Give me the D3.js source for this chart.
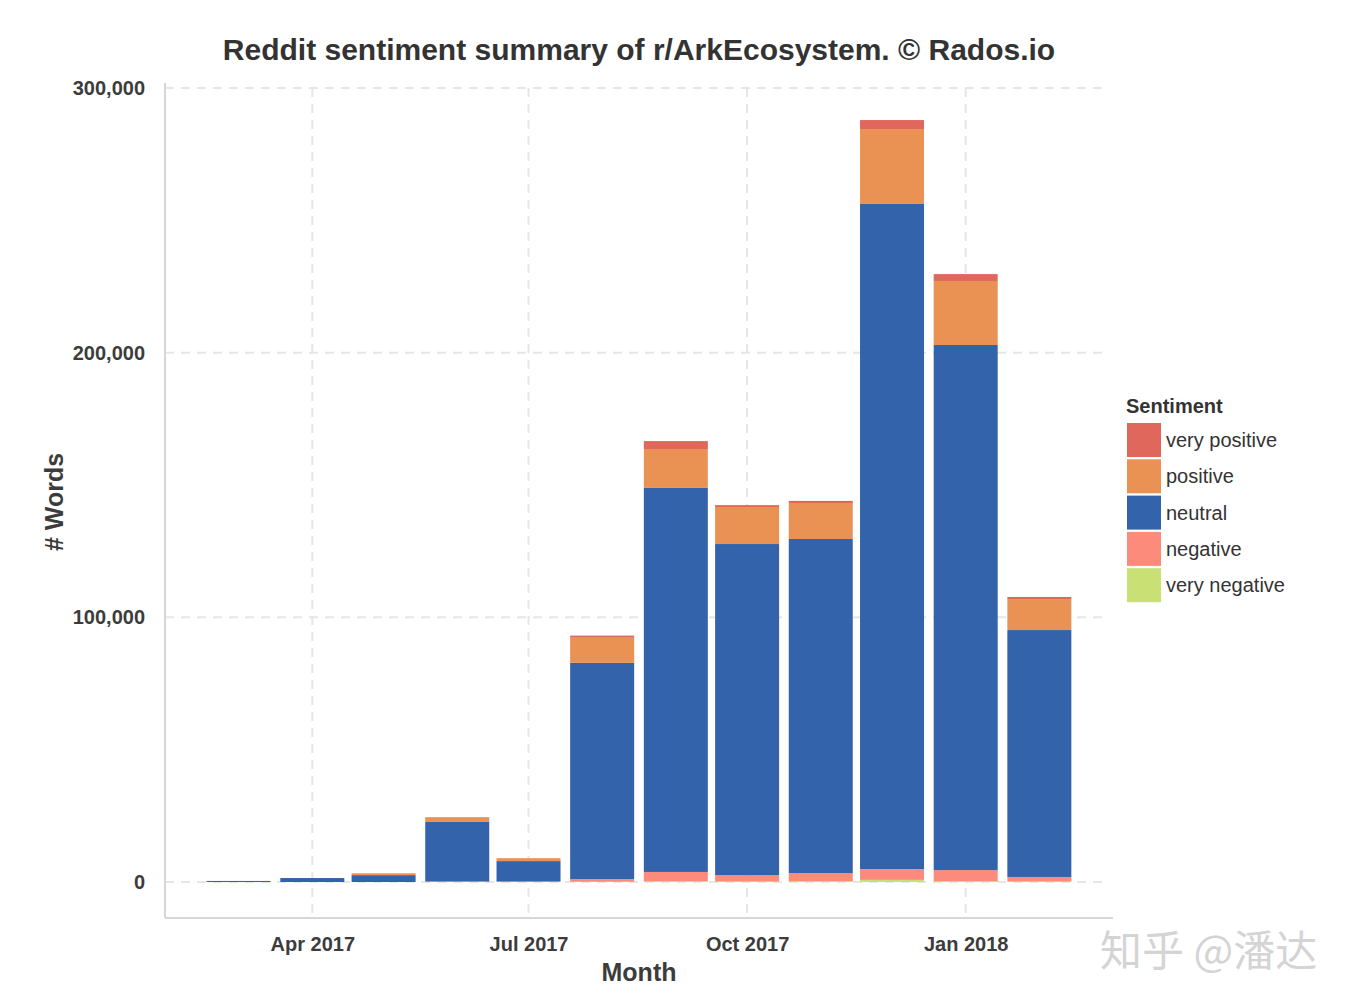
<!DOCTYPE html>
<html><head><meta charset="utf-8">
<script src="https://cdn.jsdelivr.net/npm/d3@7"></script>
<style>body{margin:0;background:#fff;} text{font-family:"Liberation Sans",Arial,sans-serif;}</style>
</head><body>
<svg id="chart" width="1348" height="1006"></svg>
<script>
const months = ["2017-03-01","2017-04-01","2017-05-01","2017-06-01","2017-07-01","2017-08-01","2017-09-01","2017-10-01","2017-11-01","2017-12-01","2018-01-01","2018-02-01"];
const veryNegative = [0, 0, 0, 0, 0, 100, 300, 200, 300, 800, 300, 200];
const negative     = [0, 0, 0, 200, 200, 1000, 3500, 2400, 3100, 4100, 4200, 1700];
const neutral      = [400, 1500, 2600, 22500, 7700, 81700, 145100, 125100, 126200, 251300, 198400, 93300];
const positive     = [0, 0, 700, 1800, 1100, 9500, 14700, 14000, 13600, 28300, 24200, 11700];
const veryPositive = [0, 0, 0, 0, 0, 800, 3000, 700, 800, 3400, 2600, 800];
const sentiments = ["very positive","positive","neutral","negative","very negative"];
const colors = ["#df675b","#ea9154","#3363aa","#fc8b7c","#c9e075"];
const yTicks = [0, 100000, 200000, 300000];
const xTicks = ["2017-04-01","2017-07-01","2017-10-01","2018-01-01"];
const xTickLabels = ["Apr 2017","Jul 2017","Oct 2017","Jan 2018"];

const parse = d3.timeParse("%Y-%m-%d");
const rows = months.map((m,i)=>({date:parse(m),"very negative":veryNegative[i],"negative":negative[i],"neutral":neutral[i],"positive":positive[i],"very positive":veryPositive[i]}));
const stackOrder = ["very negative","negative","neutral","positive","very positive"];
const series = d3.stack().keys(stackOrder)(rows);
const color = d3.scaleOrdinal().domain(sentiments).range(colors);

const svg = d3.select("#chart");
const L=165, R=1113, T=83, B=918;
const x = d3.scaleTime().domain([parse("2017-01-29"), parse("2018-03-04")]).range([L,R]);
const y = d3.scaleLinear().domain([-13600, 301900]).range([B,T]);

// gridlines
const grid = svg.append("g");
grid.selectAll("line.h").data(yTicks).join("line")
  .attr("x1",L).attr("x2",1105).attr("y1",d=>y(d)).attr("y2",d=>y(d))
  .attr("stroke","#e6e6e6").attr("stroke-width",2).attr("stroke-dasharray","9,7");
grid.selectAll("line.v").data(xTicks).join("line")
  .attr("x1",d=>x(parse(d))).attr("x2",d=>x(parse(d))).attr("y1",88).attr("y2",B)
  .attr("stroke","#e6e6e6").attr("stroke-width",2).attr("stroke-dasharray","9,7");

// bars
const barW = 64;
svg.append("g").selectAll("g").data(series).join("g")
  .attr("fill",d=>color(d.key))
  .selectAll("rect").data(d=>d).join("rect")
  .attr("x",d=>x(d.data.date)-barW/2).attr("width",barW)
  .attr("y",d=>y(d[1])).attr("height",d=>Math.max(0,y(d[0])-y(d[1])));

// axis lines
svg.append("line").attr("x1",L).attr("x2",L).attr("y1",T).attr("y2",B).attr("stroke","#d6d6d6").attr("stroke-width",2);
svg.append("line").attr("x1",L).attr("x2",R).attr("y1",B).attr("y2",B).attr("stroke","#d6d6d6").attr("stroke-width",2);

// axes via d3 (labels only)
const yAxis = svg.append("g").attr("transform",`translate(${L},0)`)
  .call(d3.axisLeft(y).tickValues(yTicks).tickSize(0).tickPadding(20).tickFormat(d3.format(",")));
yAxis.select(".domain").remove();
yAxis.selectAll("text").attr("font-size",20).attr("font-weight","bold").attr("fill","#3c3c3c").style("font-family","Liberation Sans, Arial, sans-serif");

const xAxis = svg.append("g").attr("transform",`translate(0,${B})`)
  .call(d3.axisBottom(x).tickValues(xTicks.map(parse)).tickSize(0).tickPadding(19).tickFormat((d,i)=>xTickLabels[i]));
xAxis.select(".domain").remove();
xAxis.selectAll("text").attr("font-size",20).attr("font-weight","bold").attr("fill","#3c3c3c").style("font-family","Liberation Sans, Arial, sans-serif");

// titles
svg.append("text").attr("x",639).attr("y",60).attr("text-anchor","middle").attr("font-size",30).attr("font-weight","bold").attr("fill","#333").text("Reddit sentiment summary of r/ArkEcosystem. © Rados.io");
svg.append("text").attr("x",639).attr("y",981).attr("text-anchor","middle").attr("font-size",25).attr("font-weight","bold").attr("fill","#3c3c3c").text("Month");
svg.append("text").attr("transform","translate(63,502) rotate(-90)").attr("text-anchor","middle").attr("font-size",25).attr("font-weight","bold").attr("fill","#3c3c3c").text("# Words");

// legend
const lg = svg.append("g");
lg.append("text").attr("x",1126).attr("y",413).attr("font-size",20).attr("font-weight","bold").attr("fill","#333").text("Sentiment");
sentiments.forEach((s,i)=>{
  const yy = 423 + i*36.3;
  lg.append("rect").attr("x",1127).attr("y",yy).attr("width",34).attr("height",34).attr("fill",color(s));
  lg.append("text").attr("x",1166).attr("y",yy+24).attr("font-size",20).attr("fill","#333").text(s);
});

// watermark
svg.append("text").attr("x",1100).attr("y",966).attr("font-size",42).attr("fill","#d4d4d4")
  .style("font-family","Noto Sans CJK SC, sans-serif").text("知乎 @潘达");
</script>
</body></html>
